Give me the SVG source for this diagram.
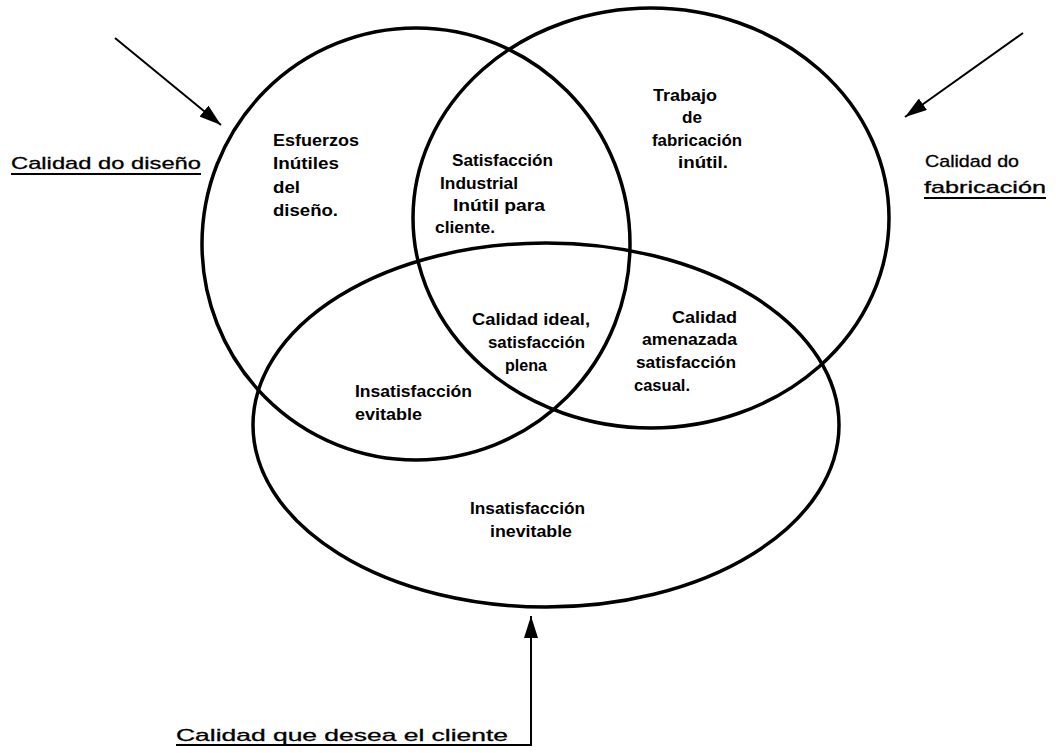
<svg xmlns="http://www.w3.org/2000/svg" width="1056" height="753" viewBox="0 0 1056 753">
<style>
.set{fill:none;stroke:#000;stroke-width:3.5}
.conn{fill:none;stroke:#000;stroke-width:2}
.in{font-family:"Liberation Sans",Arial,sans-serif;font-weight:bold;font-size:17px;fill:#000}
.lab{font-family:"Liberation Sans",Arial,sans-serif;font-size:17px;fill:#000;stroke:#000;stroke-width:0.3}
.ul{stroke:#000;stroke-width:1.8}
</style>
<defs>
<marker id="ah" viewBox="0 0 10 10" refX="10" refY="5" markerUnits="userSpaceOnUse" markerWidth="22" markerHeight="14" orient="auto" preserveAspectRatio="none">
<path d="M0,0 L10,5 L0,10 z" fill="#000"/>
</marker>
</defs>
<rect width="1056" height="753" fill="#fff"/>
<g id="diseno">
<ellipse class="set" cx="416" cy="244" rx="214" ry="216"/>
<text class="in" x="273" y="146" textLength="86" lengthAdjust="spacingAndGlyphs">Esfuerzos</text>
<text class="in" x="273" y="169" textLength="66" lengthAdjust="spacingAndGlyphs">Inútiles</text>
<text class="in" x="273" y="193" textLength="27" lengthAdjust="spacingAndGlyphs">del</text>
<text class="in" x="273" y="216" textLength="65" lengthAdjust="spacingAndGlyphs">diseño.</text>
</g>
<g id="fabricacion">
<ellipse class="set" cx="651" cy="218" rx="238" ry="210"/>
<text class="in" x="653" y="101" textLength="64" lengthAdjust="spacingAndGlyphs">Trabajo</text>
<text class="in" x="682" y="123" textLength="20" lengthAdjust="spacingAndGlyphs">de</text>
<text class="in" x="652" y="146" textLength="90" lengthAdjust="spacingAndGlyphs">fabricación</text>
<text class="in" x="678" y="168" textLength="50" lengthAdjust="spacingAndGlyphs">inútil.</text>
</g>
<g id="cliente">
<ellipse class="set" cx="546" cy="425" rx="293" ry="182"/>
<text class="in" x="470" y="514" textLength="115" lengthAdjust="spacingAndGlyphs">Insatisfacción</text>
<text class="in" x="490" y="537" textLength="82" lengthAdjust="spacingAndGlyphs">inevitable</text>
</g>
<g id="interseccion-diseno-fabricacion">
<text class="in" x="452" y="166" textLength="101" lengthAdjust="spacingAndGlyphs">Satisfacción</text>
<text class="in" x="440" y="189" textLength="78" lengthAdjust="spacingAndGlyphs">Industrial</text>
<text class="in" x="453" y="211" textLength="92" lengthAdjust="spacingAndGlyphs">Inútil para</text>
<text class="in" x="435" y="233" textLength="60" lengthAdjust="spacingAndGlyphs">cliente.</text>
</g>
<g id="calidad-ideal">
<text class="in" x="472" y="325" textLength="118" lengthAdjust="spacingAndGlyphs">Calidad ideal,</text>
<text class="in" x="488" y="348" textLength="97" lengthAdjust="spacingAndGlyphs">satisfacción</text>
<text class="in" x="505" y="371" textLength="42" lengthAdjust="spacingAndGlyphs">plena</text>
</g>
<g id="calidad-amenazada">
<text class="in" x="672" y="323" textLength="65" lengthAdjust="spacingAndGlyphs">Calidad</text>
<text class="in" x="642" y="345" textLength="95" lengthAdjust="spacingAndGlyphs">amenazada</text>
<text class="in" x="636" y="368" textLength="100" lengthAdjust="spacingAndGlyphs">satisfacción</text>
<text class="in" x="634" y="391" textLength="56" lengthAdjust="spacingAndGlyphs">casual.</text>
</g>
<g id="insatisfaccion-evitable">
<text class="in" x="355" y="397" textLength="117" lengthAdjust="spacingAndGlyphs">Insatisfacción</text>
<text class="in" x="355" y="420" textLength="67" lengthAdjust="spacingAndGlyphs">evitable</text>
</g>
<g id="label-diseno">
<text class="lab" x="11" y="169" textLength="190" lengthAdjust="spacingAndGlyphs">Calidad do diseño</text>
<line class="ul" x1="11" y1="174" x2="201" y2="174"/>
</g>
<g id="label-fabricacion">
<text class="lab" x="925" y="167" textLength="94" lengthAdjust="spacingAndGlyphs">Calidad do</text>
<text class="lab" x="924" y="193" textLength="122" lengthAdjust="spacingAndGlyphs">fabricación</text>
<line class="ul" x1="924" y1="198" x2="1046" y2="198"/>
</g>
<g id="label-cliente">
<text class="lab" x="176" y="741" textLength="332" lengthAdjust="spacingAndGlyphs">Calidad que desea el cliente</text>
</g>
<g id="connectors">
<line class="conn" x1="115" y1="38" x2="221" y2="125" marker-end="url(#ah)"/>
<line class="conn" x1="1023" y1="33" x2="905" y2="117" marker-end="url(#ah)"/>
<path class="conn" d="M176,745 L531,745 L531,616" marker-end="url(#ah)"/>
</g>
</svg>
